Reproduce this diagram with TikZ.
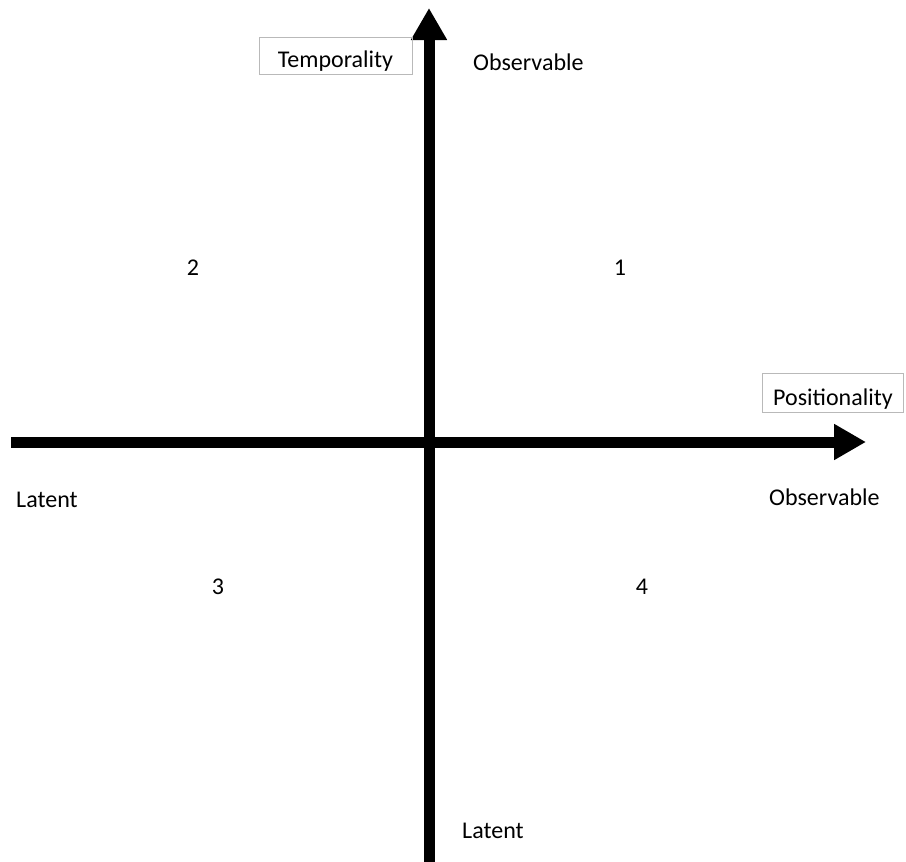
\documentclass[tikz,border=0pt]{standalone}
\usepackage{fontspec}
\setmainfont{Carlito}
\usetikzlibrary{arrows.meta}
\begin{document}
\begin{tikzpicture}[x=1pt,y=-1pt,
  axis/.style={line width=11pt,-{Triangle[length=32pt,width=34pt]}},
  lbl/.style={font=\fontsize{24}{26}\selectfont,inner sep=0pt},
  boxlbl/.style={lbl,draw=gray!55,line width=0.8pt,inner ysep=0pt,text depth=7pt,anchor=north}]
\useasboundingbox (0,0) rectangle (906,862);
\coordinate (vbot) at (429,862);
\coordinate (vtop) at (429,8);
\coordinate (hleft) at (11,442);
\coordinate (hright) at (866,442);
\draw[axis] (vbot) -- (vtop);
\draw[axis] (hleft) -- (hright);
\node[boxlbl,minimum width=153pt,text height=30pt] (temp) at (335.5,37) {Temporality};
\node[boxlbl,minimum width=141pt,text height=32pt] (pos) at (833,373) {Positionality};
\node[lbl,anchor=west] (obsT) at (473,62) {Observable};
\node[lbl,anchor=west] (obsR) at (769,497) {Observable};
\node[lbl,anchor=west] (latL) at (16,500) {Latent};
\node[lbl,anchor=west] (latB) at (462,831) {Latent};
\node[lbl] (n2) at (193,268) {2};
\node[lbl] (n1) at (620,268) {1};
\node[lbl] (n3) at (218,587) {3};
\node[lbl] (n4) at (642,587) {4};
\end{tikzpicture}
\end{document}
